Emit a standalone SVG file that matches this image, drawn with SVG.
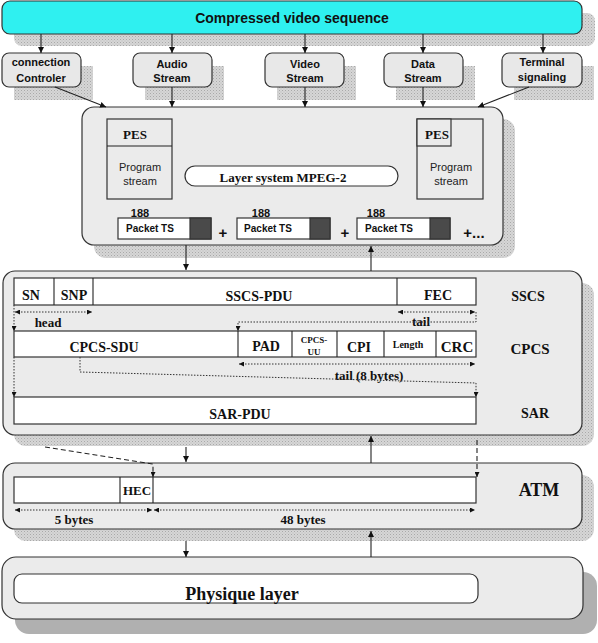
<svg xmlns="http://www.w3.org/2000/svg" width="598" height="643" viewBox="0 0 598 643">
<style>
.box{fill:#ebebeb;stroke:#333;stroke-width:1.2}
.sbox{fill:#e8e8e8;stroke:#333;stroke-width:1.2}
.cell{fill:#fff;stroke:#333;stroke-width:1.2}
.sh{fill:url(#dots)}
.sa{font-family:"Liberation Sans",Arial,sans-serif;font-weight:bold;fill:#111}
.sr{font-family:"Liberation Sans",Arial,sans-serif;fill:#222}
.tm{font-family:"Liberation Serif","Times New Roman",serif;font-weight:bold;fill:#111}
.c{text-anchor:middle}
.ln{stroke:#222;stroke-width:1.1;fill:none}
.dot{stroke:#333;stroke-width:1;fill:none;stroke-dasharray:1.5 1.5}
.dash{stroke:#222;stroke-width:1.1;fill:none;stroke-dasharray:5 3}
</style>
<defs>
<pattern id="dots" width="3" height="3" patternUnits="userSpaceOnUse">
<rect width="3" height="3" fill="#d6d6d6"/><rect width="1" height="1" fill="#a9a9a9"/><rect x="1.5" y="1.5" width="1" height="1" fill="#bdbdbd"/>
</pattern>
<marker id="ah" viewBox="0 0 10 10" refX="10" refY="5" markerWidth="6" markerHeight="6" orient="auto-start-reverse" markerUnits="userSpaceOnUse">
<path d="M0,0 L10,5 L0,10 z" fill="#111"/>
</marker>
<marker id="sh" viewBox="0 0 10 10" refX="10" refY="5" markerWidth="5" markerHeight="5" orient="auto-start-reverse" markerUnits="userSpaceOnUse">
<path d="M0,0 L10,5 L0,10 z" fill="#111"/>
</marker>
</defs>
<rect width="598" height="643" fill="#fff"/>

<!-- shadows -->
<g id="shadows">
<rect class="sh" x="14" y="13" width="581" height="33" rx="8"/>
<rect class="sh" x="14" y="66" width="79" height="34"/>
<rect class="sh" x="145" y="66" width="79" height="34"/>
<rect class="sh" x="277" y="66" width="79" height="34"/>
<rect class="sh" x="396" y="66" width="79" height="34"/>
<rect class="sh" x="514" y="66" width="80" height="34"/>
<rect class="sh" x="94" y="119" width="421" height="139" rx="12"/>
<rect class="sh" x="14" y="283" width="580" height="163" rx="12"/>
<rect class="sh" x="14" y="475" width="580" height="66" rx="12"/>
<rect x="15" y="572" width="582" height="62" rx="14" fill="#b0b0b0"/>
</g>

<g id="top-bar">
<rect x="2" y="1" width="580" height="33" rx="8" fill="#2ff0f0" stroke="#333" stroke-width="1.2"/>
<text class="sa c" x="292" y="23" font-size="14">Compressed video sequence</text>
</g>

<g id="connection-controler">
<rect class="sbox" x="2" y="53" width="79" height="34" rx="7"/>
<text class="sa c" x="41" y="66" font-size="11">connection</text>
<text class="sa c" x="41" y="82" font-size="11">Controler</text>
</g>
<g id="audio-stream">
<rect class="sbox" x="133" y="53" width="79" height="34" rx="7"/>
<text class="sa c" x="172" y="68" font-size="11">Audio</text>
<text class="sa c" x="172" y="82" font-size="11">Stream</text>
</g>
<g id="video-stream">
<rect class="sbox" x="265" y="53" width="79" height="34" rx="7"/>
<text class="sa c" x="305" y="68" font-size="11">Video</text>
<text class="sa c" x="305" y="82" font-size="11">Stream</text>
</g>
<g id="data-stream">
<rect class="sbox" x="384" y="53" width="79" height="34" rx="7"/>
<text class="sa c" x="423" y="68" font-size="11">Data</text>
<text class="sa c" x="423" y="82" font-size="11">Stream</text>
</g>
<g id="terminal-signaling">
<rect class="sbox" x="502" y="53" width="80" height="34" rx="7"/>
<text class="sa c" x="542" y="66" font-size="11">Terminal</text>
<text class="sa c" x="542" y="81" font-size="11">signaling</text>
</g>

<g id="mpeg2-layer">
<rect class="box" x="82" y="107" width="421" height="138" rx="12"/>
<rect class="box" x="107" y="119" width="65" height="80" fill="#ebebeb"/>
<line class="ln" x1="107" y1="146" x2="172" y2="146"/>
<text class="tm c" x="135" y="139" font-size="13">PES</text>
<text class="sr c" x="140" y="171" font-size="11">Program</text>
<text class="sr c" x="140" y="185" font-size="11">stream</text>
<rect class="box" x="417" y="119" width="66" height="80"/>
<rect class="box" x="417" y="119" width="34" height="27"/>
<text class="tm c" x="437" y="139" font-size="13">PES</text>
<text class="sr c" x="451" y="171" font-size="11">Program</text>
<text class="sr c" x="451" y="185" font-size="11">stream</text>
<rect x="185" y="166" width="213" height="20" rx="10" fill="#fff" stroke="#333" stroke-width="1.2"/>
<text class="tm c" x="283" y="182" font-size="13">Layer system MPEG-2</text>
<text class="sa c" x="140" y="217" font-size="11">188</text>
<rect class="cell" x="118" y="218" width="93" height="21"/>
<rect x="190" y="218" width="21" height="21" fill="#4a4a4a" stroke="#333" stroke-width="1.2"/>
<text class="sa c" x="150" y="232" font-size="10">Packet TS</text>
<text class="sa c" x="223" y="238" font-size="15">+</text>
<text class="sa c" x="261" y="217" font-size="11">188</text>
<rect class="cell" x="237" y="218" width="93" height="21"/>
<rect x="310" y="218" width="20" height="21" fill="#4a4a4a" stroke="#333" stroke-width="1.2"/>
<text class="sa c" x="268" y="232" font-size="10">Packet TS</text>
<text class="sa c" x="345" y="238" font-size="15">+</text>
<text class="sa c" x="376" y="217" font-size="11">188</text>
<rect class="cell" x="357" y="218" width="93" height="21"/>
<rect x="430" y="218" width="20" height="21" fill="#4a4a4a" stroke="#333" stroke-width="1.2"/>
<text class="sa c" x="389" y="232" font-size="10">Packet TS</text>
<text class="sa c" x="474" y="238" font-size="15">+...</text>
</g>

<g id="aal-layer">
<rect class="box" x="3" y="271" width="579" height="164" rx="12"/>
<rect class="cell" x="14" y="278" width="462" height="27"/>
<line class="ln" x1="54" y1="278" x2="54" y2="305"/>
<line class="ln" x1="93" y1="278" x2="93" y2="305"/>
<line class="ln" x1="397" y1="278" x2="397" y2="305"/>
<text class="tm c" x="31" y="300" font-size="14">SN</text>
<text class="tm c" x="74" y="300" font-size="14">SNP</text>
<text class="tm c" x="259" y="301" font-size="14">SSCS-PDU</text>
<text class="tm c" x="438" y="300" font-size="14">FEC</text>
<text class="tm c" x="528" y="301" font-size="14">SSCS</text>

<rect class="cell" x="14" y="331" width="462" height="26"/>
<line class="ln" x1="238" y1="331" x2="238" y2="357"/>
<line class="ln" x1="292" y1="331" x2="292" y2="357"/>
<line class="ln" x1="337" y1="331" x2="337" y2="357"/>
<line class="ln" x1="384" y1="331" x2="384" y2="357"/>
<line class="ln" x1="436" y1="331" x2="436" y2="357"/>
<text class="tm c" x="104" y="352" font-size="14">CPCS-SDU</text>
<text class="tm c" x="266" y="351" font-size="14">PAD</text>
<text class="tm c" x="314" y="343" font-size="9">CPCS-</text>
<text class="tm c" x="314" y="355" font-size="9">UU</text>
<text class="tm c" x="359" y="352" font-size="14">CPI</text>
<text class="tm c" x="408" y="348" font-size="10">Length</text>
<text class="tm c" x="457" y="352" font-size="15">CRC</text>
<text class="tm c" x="530" y="354" font-size="15">CPCS</text>

<rect class="cell" x="14" y="397" width="462" height="27"/>
<text class="tm c" x="240" y="419" font-size="14">SAR-PDU</text>
<text class="tm c" x="535" y="418" font-size="14">SAR</text>

<text class="tm c" x="48" y="327" font-size="13">head</text>
<text class="tm c" x="421" y="326" font-size="13">tail</text>
<text class="tm c" x="369" y="380" font-size="13">tail (8 bytes)</text>
</g>

<g id="atm-layer">
<rect class="box" x="3" y="463" width="579" height="66" rx="12"/>
<rect class="cell" x="14" y="477" width="462" height="26"/>
<line class="ln" x1="120" y1="477" x2="120" y2="503"/>
<line class="ln" x1="153" y1="477" x2="153" y2="503"/>
<text class="tm c" x="137" y="495" font-size="13">HEC</text>
<text class="tm c" x="539" y="496" font-size="18">ATM</text>
<text class="tm c" x="74" y="524" font-size="13">5 bytes</text>
<text class="tm c" x="303" y="524" font-size="13">48 bytes</text>
</g>

<g id="physique-layer">
<rect class="box" x="2" y="557" width="581" height="62" rx="14"/>
<rect x="14" y="574" width="464" height="29" rx="8" fill="#fff" stroke="#333" stroke-width="1.2"/>
<text class="tm c" x="242" y="600" font-size="18">Physique layer</text>
</g>

<g id="connectors">
<line class="ln" x1="41" y1="34" x2="41" y2="53" marker-end="url(#ah)"/>
<line class="ln" x1="172" y1="34" x2="172" y2="53" marker-end="url(#ah)"/>
<line class="ln" x1="305" y1="34" x2="305" y2="53" marker-end="url(#ah)"/>
<line class="ln" x1="423" y1="34" x2="423" y2="53" marker-end="url(#ah)"/>
<line class="ln" x1="543" y1="34" x2="543" y2="53" marker-end="url(#ah)"/>
<line class="ln" x1="55" y1="87" x2="106" y2="107" marker-end="url(#ah)"/>
<line class="ln" x1="172" y1="87" x2="172" y2="107" marker-end="url(#ah)"/>
<line class="ln" x1="305" y1="87" x2="305" y2="107" marker-end="url(#ah)"/>
<line class="ln" x1="423" y1="87" x2="423" y2="107" marker-end="url(#ah)"/>
<line class="ln" x1="529" y1="87" x2="478" y2="107" marker-end="url(#ah)"/>
<line class="ln" x1="186" y1="245" x2="186" y2="270" marker-end="url(#ah)"/>
<line class="ln" x1="371" y1="271" x2="371" y2="246" marker-end="url(#ah)"/>
<line class="ln" x1="186" y1="447" x2="186" y2="462" marker-end="url(#ah)"/>
<line class="ln" x1="371" y1="463" x2="371" y2="436" marker-end="url(#ah)"/>
<line class="ln" x1="186" y1="541" x2="186" y2="557" marker-end="url(#ah)"/>
<line class="ln" x1="371" y1="557" x2="371" y2="531" marker-end="url(#ah)"/>
<!-- AAL dotted -->
<line class="dot" x1="15" y1="312" x2="92" y2="312" marker-start="url(#sh)" marker-end="url(#sh)"/>
<line class="dot" x1="398" y1="312" x2="475" y2="312" marker-start="url(#sh)" marker-end="url(#sh)"/>
<path class="dot" d="M476 312 L476 322 L238 322 L238 331" marker-end="url(#sh)"/>
<line class="dot" x1="14" y1="305" x2="14" y2="331" marker-end="url(#sh)"/>
<line class="dot" x1="239" y1="364" x2="475" y2="364" marker-start="url(#sh)" marker-end="url(#sh)"/>
<path class="dot" d="M80 357 L80 372 L476 383 L476 397" marker-end="url(#sh)"/>
<line class="dot" x1="14" y1="357" x2="14" y2="397" marker-end="url(#sh)"/>
<!-- ATM -->
<path class="dash" d="M45 447 L153 464 L153 477" marker-end="url(#sh)"/>
<line class="dash" x1="477" y1="440" x2="477" y2="477" marker-end="url(#sh)"/>
<line class="dot" x1="15" y1="510" x2="152" y2="510" marker-start="url(#sh)" marker-end="url(#sh)"/>
<line class="dot" x1="154" y1="510" x2="475" y2="510" marker-start="url(#sh)" marker-end="url(#sh)"/>
</g>
</svg>
